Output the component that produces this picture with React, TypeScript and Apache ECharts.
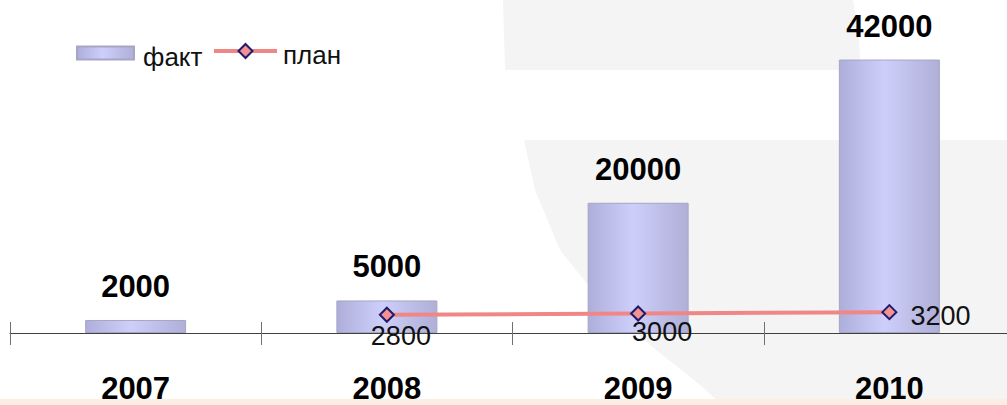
import React, { useEffect, useRef } from "react";
import * as echarts from "echarts";

const years = ["2007", "2008", "2009", "2010"];
const fact = [2000, 5000, 20000, 42000];
const plan: (number | string)[] = ["-", 2800, 3000, 3200];
const planLabelOffsets: number[][] = [[0, 0], [14, 21], [24, 19], [0, 4]];

const FONT = "Liberation Sans";

export default function App() {
  const ref = useRef<HTMLDivElement>(null);
  useEffect(() => {
    if (!ref.current) return;
    const chart = echarts.init(ref.current, null, { renderer: "svg" });
    const barGradient = new echarts.graphic.LinearGradient(0, 0, 1, 0, [
      { offset: 0, color: "#aeaedb" },
      { offset: 0.45, color: "#cdcffa" },
      { offset: 1, color: "#afafd8" },
    ]);
    const legendText = (padLeft: number) => ({
      fontFamily: FONT,
      fontSize: 26,
      color: "#111",
      rich: {
        t: {
          fontFamily: FONT,
          fontSize: 26,
          color: "#111",
          padding: [8, 0, 0, padLeft],
        },
      },
    });
    chart.setOption({
      animation: false,
      backgroundColor: "#ffffff",
      graphic: [
        {
          type: "polygon",
          silent: true,
          z: -10,
          shape: { points: [[503, 0], [853, 0], [858, 30], [861, 70], [505, 70]] },
          style: { fill: "#f4f4f4" },
        },
        {
          type: "polygon",
          silent: true,
          z: -10,
          shape: {
            points: [
              [524, 140], [1015, 140], [1015, 405], [722, 405], [700, 385],
              [650, 345], [600, 300], [560, 250], [535, 190],
            ],
          },
          style: { fill: "#f4f4f4" },
        },
        {
          type: "rect",
          silent: true,
          z: -9,
          shape: { x: 0, y: 399, width: 1015, height: 6 },
          style: { fill: "#fdeee4" },
        },
      ],
      legend: [
        {
          left: 71,
          top: 39,
          itemWidth: 57,
          itemHeight: 13,
          formatter: "{t|{name}}",
          textStyle: legendText(4),
          data: [{ name: "факт", icon: "rect" }],
        },
        {
          left: 207,
          top: 37,
          itemWidth: 63,
          itemHeight: 17.5,
          formatter: "{t|{name}}",
          lineStyle: { width: 4, color: "#f08787" },
          textStyle: legendText(1),
          data: ["план"],
        },
      ],
      grid: { left: 10, right: 0, top: 40, height: 293 },
      xAxis: [
        {
          type: "category",
          data: years,
          boundaryGap: true,
          axisLine: { show: true, lineStyle: { color: "#404040", width: 1 } },
          axisTick: { show: true, length: 12, lineStyle: { color: "#707070" } },
          axisLabel: {
            fontFamily: FONT,
            fontSize: 31,
            fontWeight: "bold",
            color: "#000",
            margin: 40,
          },
        },
        {
          type: "category",
          data: years,
          position: "bottom",
          boundaryGap: true,
          axisLine: { show: false },
          axisTick: { show: true, inside: true, length: 11, lineStyle: { color: "#707070" } },
          axisLabel: { show: false },
        },
      ],
      yAxis: {
        type: "value",
        min: 0,
        max: 45000,
        show: false,
        splitLine: { show: false },
      },
      series: [
        {
          name: "факт",
          type: "bar",
          data: fact,
          barWidth: 101,
          itemStyle: { color: barGradient, borderColor: "#a6a6c4", borderWidth: 1 },
          label: {
            show: true,
            position: "top",
            distance: 18,
            fontFamily: FONT,
            fontSize: 31,
            fontWeight: "bold",
            color: "#000",
          },
        },
        {
          name: "план",
          type: "line",
          data: plan.map((v, i) => ({
            value: v,
            label: {
              position: i === 3 ? "right" : "inside",
              distance: 13,
              offset: planLabelOffsets[i],
            },
          })),
          symbol: "diamond",
          symbolSize: 14,
          lineStyle: { color: "#f08787", width: 4 },
          itemStyle: { color: "#f49191", borderColor: "#1c1c6e", borderWidth: 2 },
          label: {
            show: true,
            fontFamily: FONT,
            fontSize: 27,
            color: "#111",
          },
          z: 5,
        },
      ],
    });
    return () => chart.dispose();
  }, []);
  return (
    <div style={{ position: "absolute", left: 0, top: 0, width: 1007, height: 405, overflow: "hidden" }}>
      <div ref={ref} style={{ width: 1015, height: 405 }} />
    </div>
  );
}
